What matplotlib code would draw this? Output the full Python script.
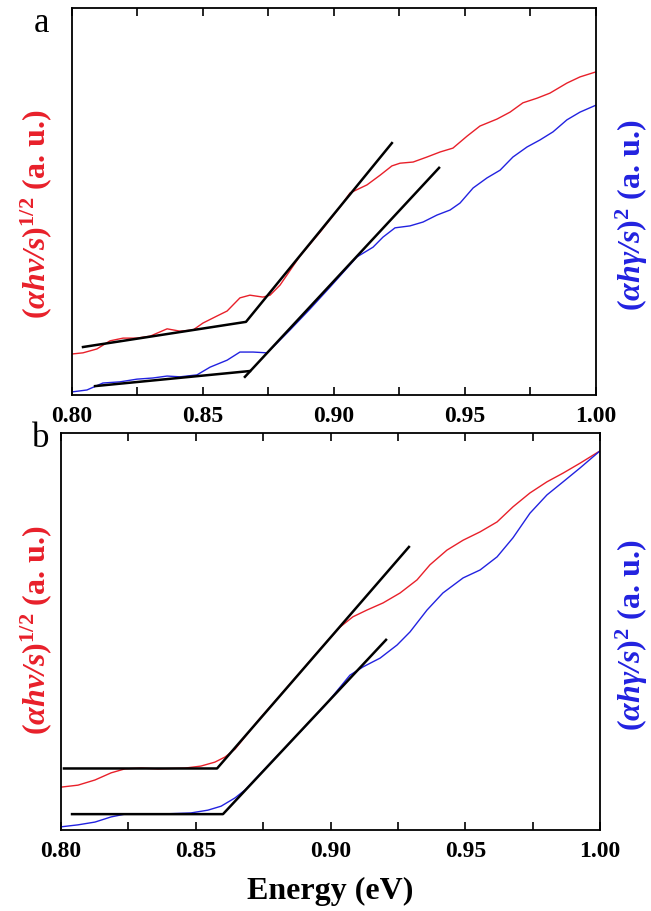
import numpy as np
import matplotlib
matplotlib.use('Agg')
import matplotlib.pyplot as plt
from matplotlib.ticker import MultipleLocator

plt.rcParams['font.family'] = 'Liberation Serif'
plt.rcParams['mathtext.fontset'] = 'custom'
plt.rcParams['mathtext.rm'] = 'Liberation Serif:bold'
plt.rcParams['mathtext.it'] = 'Liberation Serif:italic:bold'
plt.rcParams['mathtext.bf'] = 'Liberation Serif:bold'
plt.rcParams['mathtext.bfit'] = 'Liberation Serif:italic:bold'

# panel a data (energy in eV, intensity in a.u.)
a_red_x = [0.8000, 0.8042, 0.8095, 0.8145, 0.8195, 0.8248, 0.8298, 0.8363, 0.8412, 0.8462,
           0.8500, 0.8553, 0.8592, 0.8641, 0.8679, 0.8729, 0.8756, 0.8794, 0.8870, 0.8947,
           0.9023, 0.9061, 0.9126, 0.9176, 0.9221, 0.9252, 0.9302, 0.9355, 0.9405, 0.9454,
           0.9508, 0.9557, 0.9622, 0.9672, 0.9721, 0.9775, 0.9824, 0.9889, 0.9939, 1.0000]
a_red_y = [0.106, 0.109, 0.119, 0.140, 0.147, 0.147, 0.152, 0.171, 0.165, 0.168,
           0.186, 0.204, 0.217, 0.251, 0.258, 0.253, 0.258, 0.284, 0.359, 0.421,
           0.486, 0.522, 0.543, 0.568, 0.592, 0.599, 0.602, 0.615, 0.628, 0.638,
           0.669, 0.695, 0.713, 0.731, 0.755, 0.767, 0.780, 0.806, 0.822, 0.835]
a_blue_x = [0.8000, 0.8057, 0.8118, 0.8183, 0.8248, 0.8309, 0.8363, 0.8412, 0.8477, 0.8527,
            0.8592, 0.8641, 0.8691, 0.8744, 0.8782, 0.8832, 0.8908, 0.8985, 0.9088, 0.9149,
            0.9187, 0.9233, 0.9290, 0.9340, 0.9393, 0.9443, 0.9481, 0.9531, 0.9584, 0.9634,
            0.9683, 0.9737, 0.9786, 0.9836, 0.9889, 0.9939, 1.0000]
a_blue_y = [0.008, 0.013, 0.031, 0.034, 0.041, 0.044, 0.049, 0.047, 0.052, 0.072,
            0.090, 0.111, 0.111, 0.109, 0.134, 0.168, 0.222, 0.279, 0.357, 0.382,
            0.408, 0.432, 0.437, 0.447, 0.465, 0.478, 0.496, 0.535, 0.561, 0.581,
            0.615, 0.641, 0.659, 0.680, 0.711, 0.731, 0.749]
a_fit_red_x = [0.8042, 0.8664, 0.9221]
a_fit_red_y = [0.124, 0.189, 0.651]
a_fit_blue_x = [0.8088, 0.8679]
a_fit_blue_y = [0.023, 0.062]
a_fit_blue2_x = [0.8660, 0.9401]
a_fit_blue2_y = [0.047, 0.587]

# panel b data
b_red_x = [0.8000, 0.8063, 0.8126, 0.8186, 0.8237, 0.8297, 0.8360, 0.8460, 0.8519, 0.8571,
           0.8609, 0.8646, 0.8738, 0.8813, 0.8887, 0.8961, 0.9035, 0.9083, 0.9135, 0.9195,
           0.9258, 0.9321, 0.9369, 0.9432, 0.9492, 0.9555, 0.9618, 0.9677, 0.9740, 0.9803,
           0.9863, 0.9926, 1.0000]
b_red_y = [0.108, 0.113, 0.126, 0.144, 0.154, 0.156, 0.154, 0.156, 0.161, 0.171,
           0.184, 0.204, 0.281, 0.339, 0.397, 0.455, 0.511, 0.537, 0.554, 0.572,
           0.597, 0.630, 0.668, 0.705, 0.730, 0.751, 0.776, 0.814, 0.849, 0.877,
           0.899, 0.924, 0.955]
b_blue_x = [0.8000, 0.8063, 0.8126, 0.8186, 0.8237, 0.8360, 0.8482, 0.8545, 0.8594, 0.8646,
            0.8683, 0.8776, 0.8887, 0.8980, 0.9072, 0.9121, 0.9184, 0.9247, 0.9295, 0.9358,
            0.9417, 0.9492, 0.9555, 0.9618, 0.9677, 0.9740, 0.9803, 0.9863, 0.9926, 1.0000]
b_blue_y = [0.008, 0.013, 0.020, 0.033, 0.040, 0.040, 0.043, 0.050, 0.060, 0.081,
            0.101, 0.168, 0.247, 0.314, 0.390, 0.411, 0.433, 0.466, 0.499, 0.554,
            0.597, 0.635, 0.655, 0.688, 0.736, 0.798, 0.844, 0.877, 0.912, 0.955]
b_fit_red_x = [0.8011, 0.8579, 0.9291]
b_fit_red_y = [0.155, 0.155, 0.713]
b_fit_blue_x = [0.8041, 0.8601, 0.9206]
b_fit_blue_y = [0.040, 0.040, 0.479]

red = '#e8202a'
blue = '#2222e0'

fig = plt.figure(figsize=(6.51, 9.11), dpi=100)
ax1 = fig.add_axes([0.1106, 0.5664, 0.8049, 0.4248])
ax2 = fig.add_axes([0.0937, 0.0889, 0.8280, 0.4358])

ax1.plot(a_red_x, a_red_y, color=red, lw=1.0)
ax1.plot(a_blue_x, a_blue_y, color=blue, lw=1.0)
ax1.plot(a_fit_red_x, a_fit_red_y, color='black', lw=1.8)
ax1.plot(a_fit_blue_x, a_fit_blue_y, color='black', lw=1.8)
ax1.plot(a_fit_blue2_x, a_fit_blue2_y, color='black', lw=1.8)

ax2.plot(b_red_x, b_red_y, color=red, lw=1.0)
ax2.plot(b_blue_x, b_blue_y, color=blue, lw=1.0)
ax2.plot(b_fit_red_x, b_fit_red_y, color='black', lw=1.8)
ax2.plot(b_fit_blue_x, b_fit_blue_y, color='black', lw=1.8)

for ax in (ax1, ax2):
    ax.set_xlim(0.80, 1.00)
    ax.set_ylim(0, 1)
    ax.set_yticks([])
    ax.xaxis.set_major_locator(MultipleLocator(0.05))
    ax.xaxis.set_minor_locator(MultipleLocator(0.025))
    ax.tick_params(axis='x', which='both', direction='in', top=True, length=6, width=1.2, pad=8)
    ax.set_xticks([0.80, 0.85, 0.90, 0.95, 1.00])
    ax.set_xticklabels(['0.80', '0.85', '0.90', '0.95', '1.00'], fontsize=17, fontweight='bold')
    for s in ax.spines.values():
        s.set_linewidth(1.3)

ax2.set_xlabel('Energy (eV)', fontsize=23, fontweight='bold', labelpad=11)

fig.text(0.064, 0.974, 'a', fontsize=25, ha='center', va='center')
fig.text(0.062, 0.519, 'b', fontsize=25, ha='center', va='center')

left_lab = r'$(\mathbfit{\alpha h\nu/s})^{1/2}$ (a. u.)'
right_lab = r'$(\mathbfit{\alpha h\gamma/s})^{2}$ (a. u.)'
fs = 23
fig.text(0.056, 0.765, left_lab, color=red, fontsize=fs, fontweight='bold',
         rotation=90, ha='center', va='center')
fig.text(0.970, 0.764, right_lab, color=blue, fontsize=fs, fontweight='bold',
         rotation=90, ha='center', va='center')
fig.text(0.056, 0.308, left_lab, color=red, fontsize=fs, fontweight='bold',
         rotation=90, ha='center', va='center')
fig.text(0.970, 0.303, right_lab, color=blue, fontsize=fs, fontweight='bold',
         rotation=90, ha='center', va='center')

fig.savefig('out.png', dpi=100)
